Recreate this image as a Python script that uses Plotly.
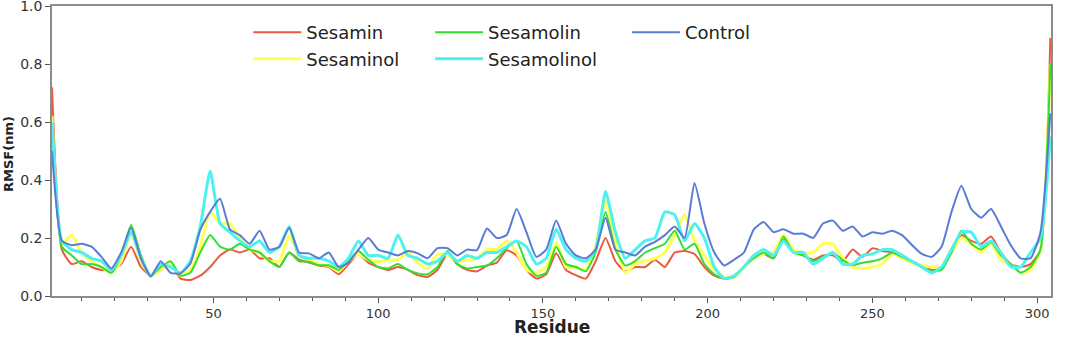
import plotly.graph_objects as go

residue = list(range(1, 305, 3))

control = [0.50, 0.19, 0.175, 0.18, 0.17, 0.135, 0.095, 0.15, 0.235, 0.13,
           0.067, 0.12, 0.08, 0.078, 0.112, 0.228, 0.29, 0.335, 0.23, 0.21,
           0.18, 0.225, 0.16, 0.17, 0.235, 0.15, 0.147, 0.13, 0.15, 0.10,
           0.115, 0.16, 0.20, 0.16, 0.15, 0.14, 0.155, 0.147, 0.13, 0.165,
           0.165, 0.14, 0.16, 0.158, 0.233, 0.20, 0.21, 0.30, 0.22, 0.135,
           0.16, 0.26, 0.18, 0.14, 0.13, 0.16, 0.27, 0.16, 0.15, 0.14,
           0.17, 0.187, 0.21, 0.24, 0.20, 0.39, 0.25, 0.15, 0.105, 0.125,
           0.15, 0.23, 0.255, 0.22, 0.23, 0.215, 0.215, 0.20, 0.25, 0.26,
           0.225, 0.24, 0.205, 0.22, 0.215, 0.225, 0.21, 0.176, 0.145, 0.135,
           0.17, 0.29, 0.38, 0.30, 0.27, 0.30, 0.24, 0.175, 0.13, 0.13,
           0.22, 0.63]

sesamolinol = [0.60, 0.19, 0.16, 0.15, 0.13, 0.12, 0.09, 0.14, 0.22, 0.13,
               0.07, 0.11, 0.10, 0.08, 0.12, 0.24, 0.43, 0.25, 0.22, 0.19,
               0.17, 0.19, 0.15, 0.17, 0.24, 0.14, 0.13, 0.13, 0.12, 0.10,
               0.13, 0.19, 0.14, 0.14, 0.13, 0.21, 0.14, 0.13, 0.11, 0.12,
               0.15, 0.12, 0.14, 0.13, 0.15, 0.15, 0.17, 0.19, 0.17, 0.11,
               0.13, 0.23, 0.16, 0.13, 0.12, 0.16, 0.36, 0.22, 0.13, 0.16,
               0.19, 0.20, 0.29, 0.28, 0.19, 0.25, 0.20, 0.10, 0.06, 0.07,
               0.10, 0.14, 0.16, 0.14, 0.19, 0.15, 0.15, 0.11, 0.13, 0.15,
               0.11, 0.11, 0.14, 0.145, 0.16, 0.16, 0.14, 0.12, 0.10, 0.08,
               0.10, 0.16, 0.22, 0.22, 0.17, 0.19, 0.15, 0.10, 0.10, 0.15,
               0.20, 0.55]

sesaminol = [0.62, 0.18, 0.21, 0.15, 0.12, 0.10, 0.08, 0.12, 0.22, 0.12,
             0.07, 0.09, 0.11, 0.07, 0.09, 0.17, 0.29, 0.25, 0.25, 0.20,
             0.16, 0.15, 0.12, 0.12, 0.21, 0.14, 0.125, 0.11, 0.105, 0.085,
             0.12, 0.145, 0.125, 0.118, 0.124, 0.124, 0.15, 0.115, 0.095, 0.145,
             0.14, 0.118, 0.124, 0.13, 0.16, 0.16, 0.19, 0.15, 0.09, 0.08,
             0.10, 0.185, 0.10, 0.10, 0.09, 0.17, 0.33, 0.19, 0.08, 0.11,
             0.12, 0.13, 0.15, 0.21, 0.28, 0.19, 0.14, 0.09, 0.065, 0.065,
             0.10, 0.13, 0.145, 0.15, 0.21, 0.16, 0.15, 0.15, 0.18, 0.18,
             0.13, 0.10, 0.095, 0.10, 0.11, 0.147, 0.13, 0.115, 0.106, 0.10,
             0.10, 0.15, 0.20, 0.18, 0.15, 0.18, 0.125, 0.11, 0.08, 0.09,
             0.16, 0.80]

sesamolin = [0.60, 0.17, 0.14, 0.11, 0.11, 0.10, 0.08, 0.14, 0.245, 0.14,
             0.07, 0.10, 0.12, 0.07, 0.08, 0.15, 0.21, 0.17, 0.16, 0.18,
             0.16, 0.15, 0.12, 0.10, 0.15, 0.12, 0.118, 0.106, 0.106, 0.09,
             0.12, 0.155, 0.125, 0.10, 0.095, 0.11, 0.09, 0.078, 0.075, 0.10,
             0.155, 0.11, 0.095, 0.10, 0.105, 0.13, 0.165, 0.19, 0.11, 0.07,
             0.08, 0.17, 0.11, 0.10, 0.085, 0.15, 0.29, 0.16, 0.105, 0.12,
             0.15, 0.165, 0.18, 0.225, 0.16, 0.18, 0.11, 0.075, 0.06, 0.065,
             0.10, 0.13, 0.15, 0.13, 0.205, 0.15, 0.14, 0.12, 0.135, 0.15,
             0.124, 0.106, 0.115, 0.12, 0.13, 0.15, 0.135, 0.118, 0.10, 0.085,
             0.09, 0.15, 0.225, 0.18, 0.16, 0.185, 0.14, 0.11, 0.08, 0.10,
             0.16, 0.80]

sesamin = [0.72, 0.16, 0.11, 0.12, 0.10, 0.09, 0.09, 0.11, 0.17, 0.10,
           0.07, 0.09, 0.11, 0.06, 0.055, 0.07, 0.10, 0.14, 0.16, 0.15,
           0.16, 0.13, 0.13, 0.10, 0.15, 0.125, 0.115, 0.105, 0.10, 0.075,
           0.11, 0.145, 0.115, 0.10, 0.09, 0.10, 0.09, 0.072, 0.066, 0.09,
           0.145, 0.11, 0.09, 0.085, 0.105, 0.115, 0.158, 0.14, 0.09, 0.06,
           0.075, 0.147, 0.09, 0.072, 0.06, 0.12, 0.20, 0.12, 0.085, 0.10,
           0.10, 0.125, 0.10, 0.15, 0.155, 0.145, 0.10, 0.07, 0.06, 0.065,
           0.10, 0.13, 0.145, 0.13, 0.195, 0.155, 0.14, 0.125, 0.14, 0.14,
           0.12, 0.16, 0.135, 0.165, 0.155, 0.15, 0.135, 0.12, 0.105, 0.09,
           0.095, 0.15, 0.21, 0.19, 0.18, 0.205, 0.15, 0.11, 0.10, 0.11,
           0.16, 0.89]

x_ticks = [50, 100, 150, 200, 250, 300]
x_minor_ticks = [10, 20, 30, 40, 60, 70, 80, 90, 110, 120, 130, 140,
                 160, 170, 180, 190, 210, 220, 230, 240, 260, 270, 280, 290]
y_ticks = [0, 0.2, 0.4, 0.6, 0.8, 1.0]
y_tick_labels = ["0.0", "0.2", "0.4", "0.6", "0.8", "1.0"]

series = [
    ("Sesamin", sesamin, "#ea5a3d", 2, "legend", 1),
    ("Sesaminol", sesaminol, "#ffff55", 3, "legend", 2),
    ("Sesamolin", sesamolin, "#2fe02f", 2, "legend2", 1),
    ("Sesamolinol", sesamolinol, "#4ef0f0", 3, "legend2", 2),
    ("Control", control, "#5a7bd6", 2, "legend3", 1),
]

fig = go.Figure()
for name, vals, color, w, leg, rank in series:
    fig.add_trace(go.Scatter(
        x=residue, y=vals, mode="lines", name=name,
        line=dict(color=color, width=w, shape="spline", smoothing=0.5),
        legend=leg, legendrank=rank,
    ))

font_family = "DejaVu Sans"
leg_common = dict(
    yanchor="top", xanchor="left", y=0.972,
    bgcolor="rgba(0,0,0,0)", borderwidth=0,
    font=dict(family=font_family, size=18, color="#222222"),
    orientation="v", tracegroupgap=0, itemwidth=48,
)

fig.update_layout(
    width=1065, height=337,
    margin=dict(l=52, r=14, t=6, b=41, autoexpand=False),
    paper_bgcolor="white", plot_bgcolor="white",
    font=dict(family=font_family, color="#333333"),
    legend=dict(x=0.1965, **leg_common),
    legend2=dict(x=0.3785, **leg_common),
    legend3=dict(x=0.5755, **leg_common),
    xaxis=dict(
        range=[1, 304.2], showgrid=False, zeroline=False, automargin=False,
        showline=True, linecolor="#8c8c8c", linewidth=1.5, mirror=True,
        tickmode="array", tickvals=x_ticks, ticklabeloverflow="allow",
        ticks="outside", ticklen=5, tickcolor="#555555", tickwidth=1.2,
        minor=dict(tickmode="array", tickvals=x_minor_ticks,
                   ticks="outside", ticklen=3, tickcolor="#555555"),
        tickfont=dict(family=font_family, size=13, color="#333333"),
    ),
    yaxis=dict(
        range=[0, 1.0], showgrid=False, zeroline=False, automargin=False,
        showline=True, linecolor="#8c8c8c", linewidth=1.5, mirror=True,
        tickmode="array", tickvals=y_ticks, ticktext=y_tick_labels,
        ticklabeloverflow="allow",
        ticks="outside", ticklen=5, tickcolor="#555555", tickwidth=1.2,
        tickfont=dict(family=font_family, size=14, color="#333333"),
    ),
    annotations=[
        dict(text="Residue", xref="paper", yref="paper", x=0.5, y=-0.108,
             xanchor="center", yanchor="middle", showarrow=False, borderpad=0,
             font=dict(family=font_family, size=17, color="#222222", weight="bold")),
        dict(text="RMSF(nm)", xref="paper", yref="paper", x=-0.043, y=0.49,
             xanchor="center", yanchor="middle", textangle=-90, showarrow=False,
             font=dict(family=font_family, size=13, color="#222222", weight="bold")),
    ],
)

fig.write_html("out.html", config={"displayModeBar": False},
               post_script="document.body.style.margin='0';document.body.style.overflow='hidden';")
